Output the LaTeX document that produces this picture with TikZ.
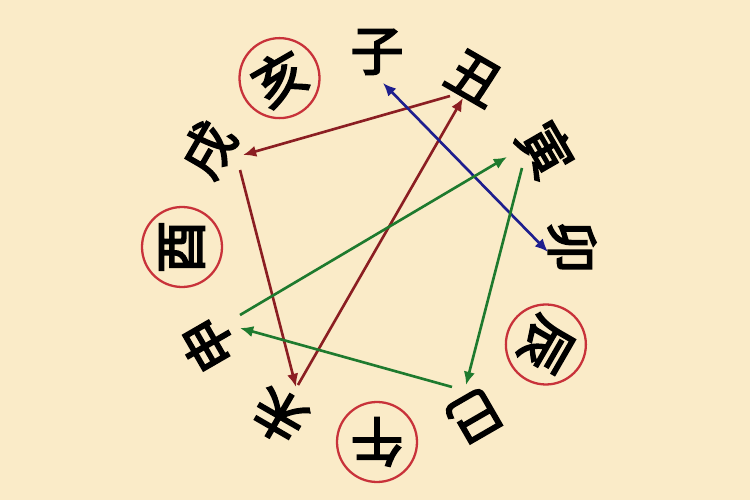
\documentclass[tikz,border=0pt]{standalone}
\usepackage{fontspec}
\newfontfamily\cjk[FakeBold=3.5]{Noto Sans CJK SC}
\usetikzlibrary{arrows.meta,calc}
\definecolor{bgc}{HTML}{FAEBC8}
\definecolor{ringc}{HTML}{C8323A}
\definecolor{redc}{HTML}{8B1E22}
\definecolor{bluec}{HTML}{1E1E8E}
\definecolor{greenc}{HTML}{1E7A2E}
\begin{document}
\begin{tikzpicture}[x=0.02cm,y=0.02cm,
  branch/.style={circle, minimum size=1.32cm, inner sep=0pt, text=black,
    font=\cjk\fontsize{30}{30}\selectfont},
  ring/.style={draw=ringc, line width=1.3pt},
  conn/.style={line width=1.5pt, -{Latex[length=7.5pt,width=6.5pt]}},
  redarr/.style={conn, draw=redc},
  greenarr/.style={conn, draw=greenc},
  bluearr/.style={line width=1.5pt, draw=bluec, {Latex[length=7.5pt,width=6.5pt]}-{Latex[length=7.5pt,width=6.5pt]}}]
\fill[bgc] (0,0) rectangle (750,500);
\coordinate (c) at (377,253);
\foreach \nm/\ch/\ang in {zi/子/90, chou/丑/60, yin/寅/30, mao/卯/0, chen/辰/-30, si/巳/-60,
  wu/午/-90, wei/未/-120, shen/申/-150, you/酉/180, xu/戌/150, hai/亥/120}
  \node[branch, rotate=\ang-90] (\nm) at ([shift={(\ang:195)}]c) {\ch};
\foreach \nm in {hai, you, chen, wu}
  \draw[ring] (\nm.center) circle[radius=40];
\draw[redarr] ($(chou)+(-24.5,-17.9)$) -- ($(xu)+(34.9,-5.5)$);
\draw[redarr] ($(xu)+(31.9,-20.5)$) -- ($(wei)+(16.5,28.9)$);
\draw[redarr] ($(wei)+(18.5,30.9)$) -- ($(chou)+(-11.5,-19.9)$);
\draw[bluearr] ($(zi)+(6,-31)$) -- ($(mao)+(-24,-5)$);
\draw[greenarr] ($(shen)+(31.9,29.5)$) -- ($(yin)+(-38.9,-7.5)$);
\draw[greenarr] ($(yin)+(-23.9,-18.5)$) -- ($(si)+(-8.5,30.9)$);
\draw[greenarr] ($(si)+(-22.5,28.9)$) -- ($(shen)+(31.9,16.5)$);
\end{tikzpicture}
\end{document}
